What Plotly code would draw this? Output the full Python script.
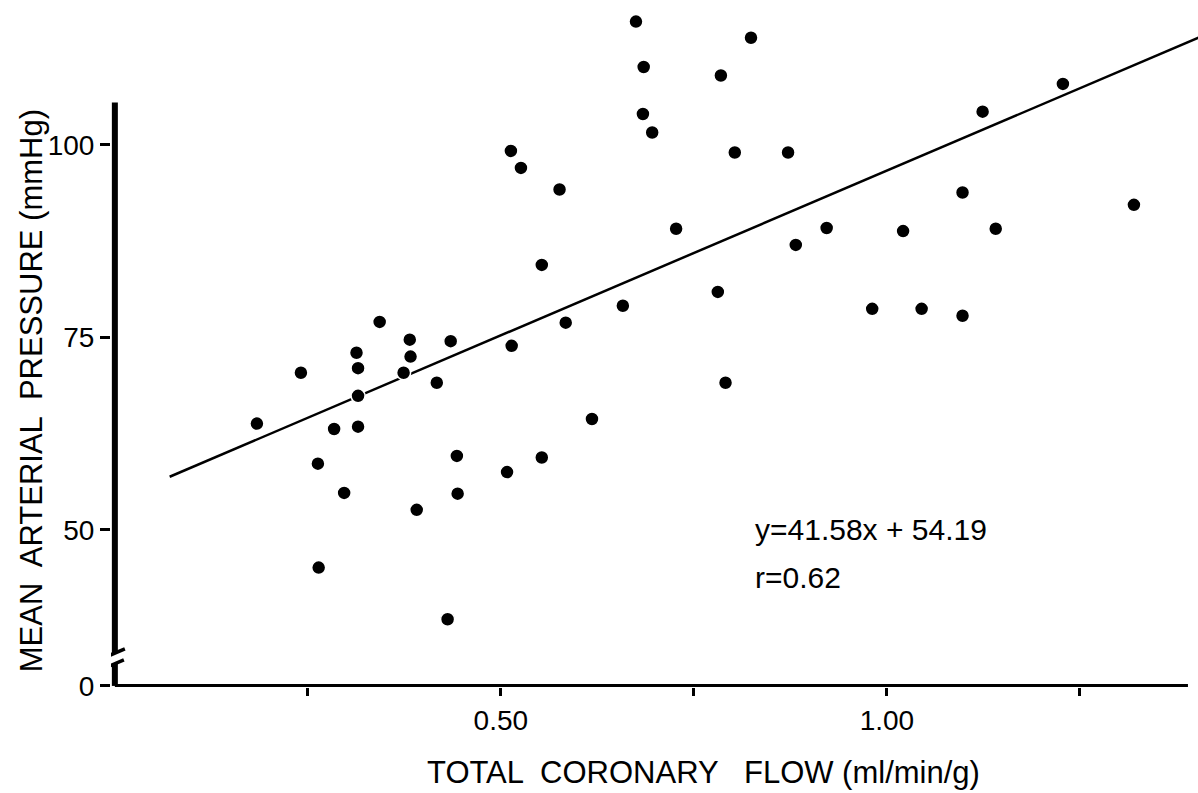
import plotly.graph_objects as go

# ---- data ----
flow = [0.343, 0.382, 0.435, 0.313, 0.241, 0.315, 0.383, 0.374, 0.417, 0.315,
        0.184, 0.284, 0.315, 0.443, 0.263, 0.297, 0.444, 0.391, 0.264, 0.431,
        0.696, 0.513, 0.526, 0.576, 0.727, 0.553, 0.658, 0.584, 0.514, 0.618,
        0.553, 0.508, 0.675, 0.824, 0.685, 0.785, 0.684, 0.803, 0.872, 1.098,
        0.922, 0.882, 1.021, 1.141, 0.781, 0.981, 1.045, 1.098, 0.791, 1.124,
        1.228, 1.320]
pressure = [77.0, 74.7, 74.5, 73.0, 70.4, 71.0, 72.5, 70.4, 69.1, 67.4,
            63.8, 63.1, 63.4, 59.6, 58.6, 54.8, 54.7, 52.6, 45.1, 38.4,
            101.6, 99.2, 97.0, 94.2, 89.1, 84.4, 79.1, 76.9, 73.9, 64.4,
            59.4, 57.5, 116.0, 113.9, 110.1, 109.0, 104.0, 99.0, 99.0, 93.8,
            89.2, 87.0, 88.8, 89.1, 80.9, 78.7, 78.7, 77.8, 69.1, 104.3,
            107.9, 92.2]

# regression line as drawn in the figure (end points)
fit_x = [0.071, 1.45]
fit_y = [56.9, 115.9]

equation_text = "y=41.58x + 54.19"
r_text = "r=0.62"

ZERO_POS = 29.74      # where the "0" of the broken axis is drawn
Y_AXIS_TOP = 105.5
X_AXIS_END = 1.39
x_tickvals = [0.25, 0.5, 0.75, 1.0, 1.25]
x_ticktext = ["", "0.50", "", "1.00", ""]
y_tickvals = [ZERO_POS, 50, 75, 100]
y_ticktext = ["0", "50", "75", "100"]

FONT = "Liberation Sans, Arial, Helvetica, sans-serif"

fig = go.Figure()
fig.add_trace(go.Scatter(x=fit_x, y=fit_y, mode="lines",
                         line=dict(color="black", width=2.5), hoverinfo="skip"))
fig.add_trace(go.Scatter(x=flow, y=pressure, mode="markers",
                         marker=dict(color="black", size=14,
                                     line=dict(color="white", width=1.5))))

# axis lines (y axis broken near the bottom)
px_per_x = 772.0
px_per_y = 7.7
def dx(p):
    return p / px_per_x
def dy(p):
    return p / px_per_y

gap_lo = ZERO_POS + dy(22)
gap_hi = ZERO_POS + dy(33)
shapes = [
    dict(type="line", xref="x", yref="y", x0=0, x1=X_AXIS_END, y0=ZERO_POS, y1=ZERO_POS,
         line=dict(color="black", width=4)),
    dict(type="line", xref="x", yref="y", x0=0, x1=0, y0=ZERO_POS, y1=gap_lo,
         line=dict(color="black", width=6)),
    dict(type="line", xref="x", yref="y", x0=0, x1=0, y0=gap_hi, y1=Y_AXIS_TOP,
         line=dict(color="black", width=6)),
    dict(type="line", xref="x", yref="y", x0=-dx(10), x1=dx(9),
         y0=gap_lo - dy(4), y1=gap_lo + dy(4), line=dict(color="black", width=3.5)),
    dict(type="line", xref="x", yref="y", x0=-dx(9), x1=dx(10),
         y0=gap_hi - dy(4), y1=gap_hi + dy(4), line=dict(color="black", width=3.5)),
]

fig.update_layout(
    width=1198, height=793,
    margin=dict(l=111, r=0, t=10, b=106),
    paper_bgcolor="white", plot_bgcolor="white",
    showlegend=False,
    font=dict(family=FONT, color="black"),
    shapes=shapes,
    xaxis=dict(range=[-0.005, 1.403], showgrid=False, zeroline=False, showline=False,
               ticks="outside", ticklen=8, tickwidth=3, tickcolor="black",
               tickvals=x_tickvals, ticktext=x_ticktext,
               tickfont=dict(size=28, family=FONT, color="black")),
    yaxis=dict(range=[29.6, 117.5], showgrid=False, zeroline=False, showline=False,
               ticks="outside", ticklen=10, tickwidth=3, tickcolor="black",
               tickvals=y_tickvals, ticktext=y_ticktext,
               tickfont=dict(size=28, family=FONT, color="black")),
    annotations=[
        dict(text="TOTAL  CORONARY   FLOW (ml/min/g)", xref="x", yref="paper",
             x=0.762, y=-0.127, xanchor="center", yanchor="middle", showarrow=False,
             font=dict(size=31, family=FONT, color="black")),
        dict(text="MEAN  ARTERIAL  PRESSURE (mmHg)", xref="paper", yref="paper",
             x=-0.0735, y=0.437, xanchor="center", yanchor="middle", textangle=-90,
             showarrow=False, font=dict(size=31, family=FONT, color="black")),
        dict(text=equation_text, xref="x", yref="y",
             x=0.826, y=50.0, xanchor="left", yanchor="middle", showarrow=False,
             font=dict(size=30, family=FONT, color="black")),
        dict(text=r_text, xref="x", yref="y",
             x=0.826, y=43.8, xanchor="left", yanchor="middle", showarrow=False,
             font=dict(size=30, family=FONT, color="black")),
    ],
)

fig.write_html("out.html")
